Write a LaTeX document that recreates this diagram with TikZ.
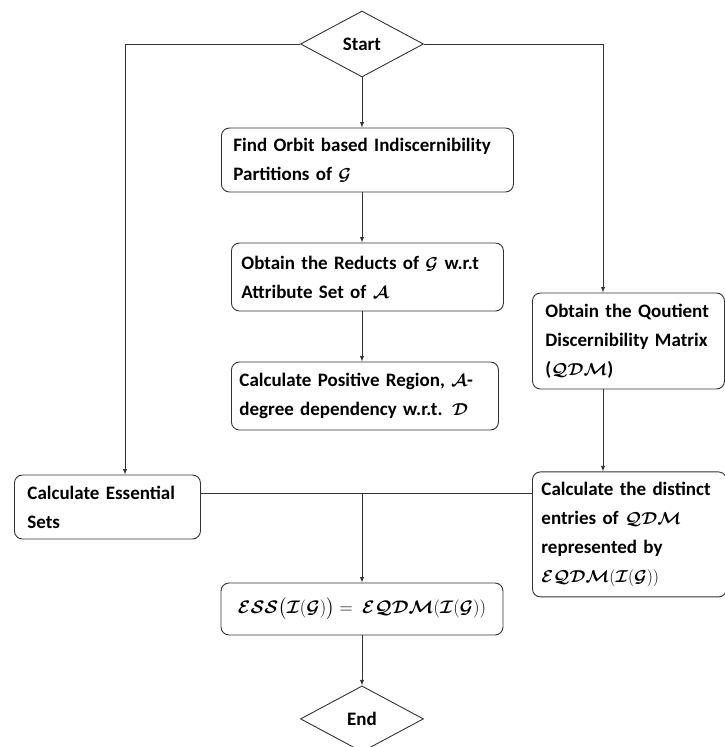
\documentclass[tikz,border=0pt]{standalone}
\usepackage{fontspec}
\setmainfont{Carlito}
\usepackage{amsmath}
\usepackage{bm}
\usepackage{graphicx}
\usetikzlibrary{shapes.geometric,positioning}

\newcommand{\calb}[1]{\bm{\mathcal{#1}}}

\begin{document}
\begin{tikzpicture}[x=1pt, y=1pt,
    font=\fontsize{19}{29}\selectfont\bfseries,
    >=latex,
    decision/.style={diamond, draw=black!80, line width=0.9pt,
                     inner sep=0pt, minimum width=123pt, minimum height=66pt},
    process/.style={rectangle, rounded corners=8pt, draw=black!80, anchor=west,
                    line width=0.9pt, align=left, inner ysep=0pt},
    link/.style={draw=black!80, line width=0.9pt}]
   \useasboundingbox (0,0) rectangle (724,-747);
   \node[decision] (start) at (362,-44) {Start};
   \node[process,
         inner xsep=12pt,
         text width=268pt,
         minimum height=64pt] (orbit) at (221,-160) {Find Orbit based Indiscernibility\\Partitions of $\calb{G}$};
   \node[process,
         inner xsep=10pt,
         text width=252pt,
         minimum height=68pt] (reducts) at (231,-277) {Obtain the Reducts of $\calb{G}$ w.r.t\\Attribute Set of $\calb{A}$};
   \node[process,
         inner xsep=8pt,
         text width=251pt,
         minimum height=68pt] (posreg) at (231,-396) {Calculate Positive Region, $\calb{A}$-\\degree dependency w.r.t. $\calb{D}$};
   \node[process,
         inner xsep=13pt,
         text width=166pt,
         minimum height=96pt] (qdm) at (532,-341) {Obtain the Qoutient\\Discernibility Matrix\\($\calb{QDM}$)};
   \node[process,
         below=82pt of qdm.south west,
         anchor=north west,
         inner xsep=9pt,
         text width=176pt,
         minimum height=125pt] (distinct) {Calculate the distinct\\entries of $\calb{QDM}$\\represented by\\$\calb{EQDM}(\calb{I}(\calb{G}))$};
   \node[process,
         inner xsep=13pt,
         text width=160pt,
         minimum height=64pt] (essential) at (14,-507) {Calculate Essential\\Sets};
   \node[process,
         anchor=center,
         align=center,
         inner xsep=4pt,
         minimum width=282pt,
         minimum height=52pt] (ess) at (362,-609) {\resizebox{248pt}{!}{$\calb{ESS}\big(\calb{I}(\calb{G})\big) =\ \calb{EQDM}(\calb{I}(\calb{G}))$}};
   \node[decision,
         below=50pt of ess] (end) {End};
   % main column
   \coordinate (join) at (362,-493);
   \draw[link,->] (start) -- (start |- orbit.north);
   \draw[link,->] (start |- orbit.south) -- (start |- reducts.north);
   \draw[link,->] (start |- reducts.south) -- (start |- posreg.north);
   % side branches
   \draw[link,->] (start.west) -| (125,0 |- essential.north);
   \draw[link,->] (start.east) -| (603,0 |- qdm.north);
   \draw[link,->] (603,0 |- qdm.south) -- (603,0 |- distinct.north);
   % merge
   \draw[link] (essential.east |- join) -- (distinct.west |- join);
   \draw[link,->] (join) -- (ess);
   \draw[link,->] (ess) -- (end);
\end{tikzpicture}
\end{document}
